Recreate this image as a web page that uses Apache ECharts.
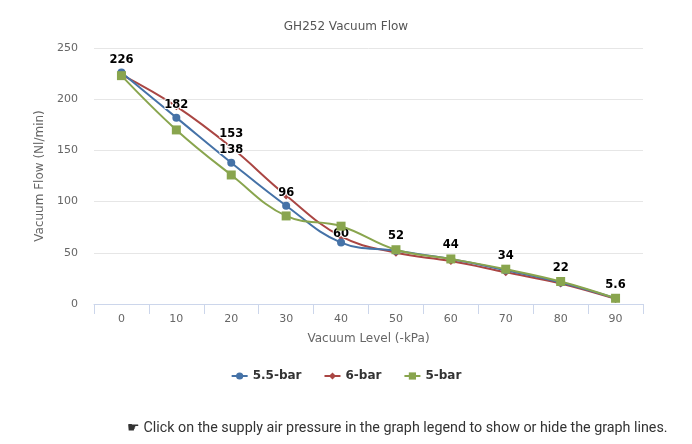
<!DOCTYPE html>
<html><head><meta charset="utf-8">
<script src="https://cdn.jsdelivr.net/npm/echarts@6/dist/echarts.min.js"></script>
<style>html,body{margin:0;padding:0;background:#fff}#c{width:692px;height:444px}</style>
</head><body><div id="c"></div>
<script>
var categories = ['0','10','20','30','40','50','60','70','80','90'];
var blue55 = [226, 182, 138, 96, 60, 52, 44, 33, 21, 5.6];
var red6   = [224, 193, 153, 106, 66, 50, 42, 31, 20, 5];
var green5 = [223, 170, 126, 86, 76, 53, 44, 34, 22, 5.6];
var blueLabelIdx = [0,1,2,3,4];
var redLabelIdx = [2];
var greenLabelIdx = [5,6,7,8,9];
var greenLabelText = ['','','','','','52','44','34','22','5.6'];

function mk(vals, idx, texts, lowered){
  return vals.map(function(v,i){
    var o = {value: v};
    if (idx.indexOf(i) >= 0) {
      o.label = {show: true};
      if (texts) o.label.formatter = texts[i];
      if (lowered === i) o.label.offset = [0, 4];
    }
    return o;
  });
}
var lbl = {show:false, position:'top', distance:3, color:'#000', fontWeight:'bold', fontSize:11.5,
  fontFamily:'DejaVu Sans', textBorderColor:'#fff', textBorderWidth:2};
var chart = echarts.init(document.getElementById('c'));
chart.setOption({
  animation:false,
  title:{text:'GH252 Vacuum Flow', left:'center', top:16, textStyle:{fontSize:12, fontWeight:'normal', color:'#555', fontFamily:'DejaVu Sans'}},
  grid:{left:94, right:49, top:48, bottom:140},
  legend:{bottom:57, left:'center', itemWidth:16, itemHeight:9, itemGap:22,
    textStyle:{fontWeight:'bold', fontSize:12, color:'#333', fontFamily:'DejaVu Sans'},
    data:['5.5-bar','6-bar','5-bar']},
  xAxis:{type:'category', data:categories, boundaryGap:true,
    name:'Vacuum Level (-kPa)', nameLocation:'middle', nameGap:29,
    nameTextStyle:{fontSize:12, color:'#666', fontFamily:'DejaVu Sans'},
    axisLine:{lineStyle:{color:'#ccd6eb'}},
    axisTick:{show:true, length:10, lineStyle:{color:'#ccd6eb'}},
    axisLabel:{color:'#666', fontSize:11, margin:10, fontFamily:'DejaVu Sans'},
    splitLine:{show:false}},
  yAxis:{type:'value', min:0, max:250, interval:50,
    name:'Vacuum Flow (Nl/min)', nameLocation:'middle', nameGap:44,
    nameTextStyle:{fontSize:12, color:'#666', fontFamily:'DejaVu Sans'},
    axisLine:{show:false}, axisTick:{show:false},
    axisLabel:{color:'#666', fontSize:11, margin:16, fontFamily:'DejaVu Sans'},
    splitLine:{lineStyle:{color:'#e6e6e6'}}},
  graphic:[{type:'text', left:127, top:421, style:{text:'\u261B Click on the supply air pressure in the graph legend to show or hide the graph lines.',
    fontSize:14.3, fill:'#333', fontFamily:'Roboto'}}],
  series:[
    {name:'5.5-bar', type:'line', smooth:0.4, data:mk(blue55, blueLabelIdx, null, 4), symbol:'circle', symbolSize:8,
      itemStyle:{color:'#4572A7'}, lineStyle:{width:2, color:'#4572A7'}, label:lbl, z:3},
    {name:'6-bar', type:'line', smooth:0.4, data:mk(red6, redLabelIdx), symbol:'diamond', symbolSize:8,
      itemStyle:{color:'#AA4643'}, lineStyle:{width:2, color:'#AA4643'}, label:lbl, z:2},
    {name:'5-bar', type:'line', smooth:0.4, data:mk(green5, greenLabelIdx, greenLabelText), symbol:'rect', symbolSize:9,
      itemStyle:{color:'#89A54E'}, lineStyle:{width:2, color:'#89A54E'}, label:lbl, z:4}
  ]
});
</script></body></html>
